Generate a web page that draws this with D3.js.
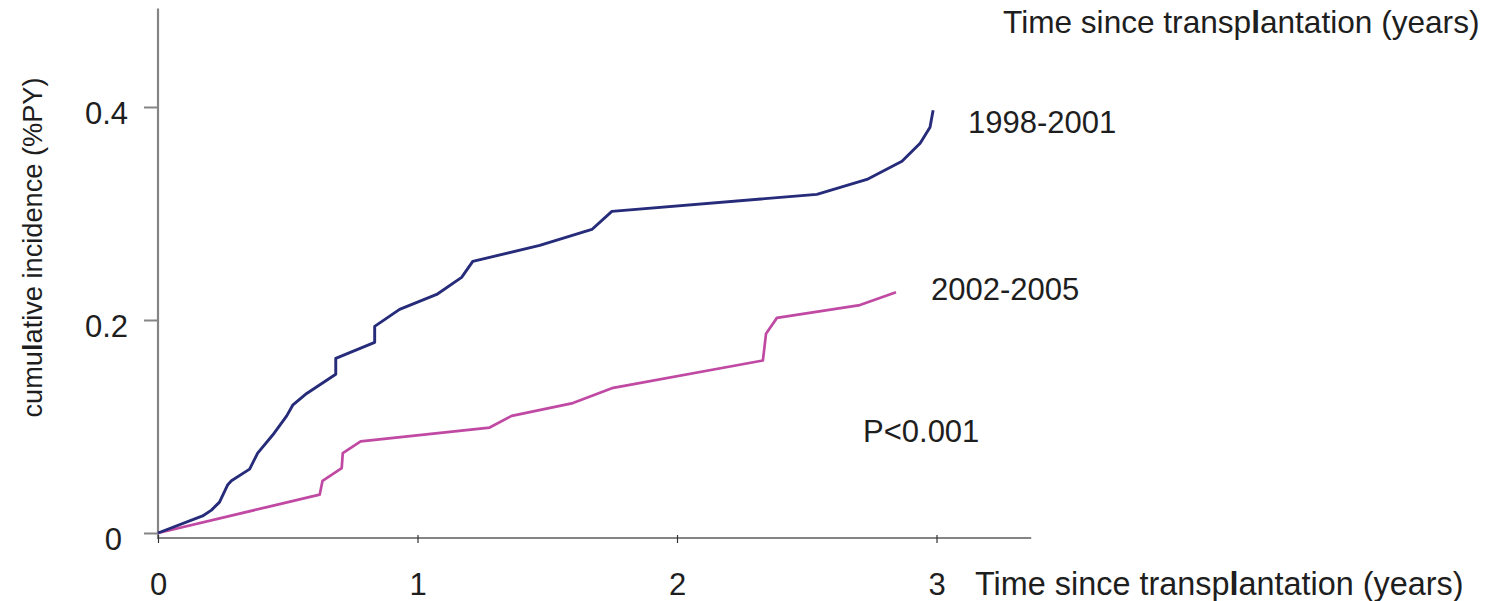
<!DOCTYPE html>
<html>
<head>
<meta charset="utf-8">
<script src="https://cdn.jsdelivr.net/npm/d3@7"></script>
<style>
  html, body { margin: 0; padding: 0; background: #fff; }
  svg { display: block; }
  text { font-family: "Liberation Sans", Arial, Helvetica, sans-serif; fill: #1e1e1e; }
</style>
</head>
<body>
<svg id="chart" width="1509" height="601"></svg>
<script>
// Cumulative incidence curves, by transplantation period
const years1998 = [0, 0.172, 0.206, 0.237, 0.268, 0.283, 0.353, 0.384, 0.442, 0.496, 0.519, 0.573, 0.685, 0.685, 0.835, 0.835, 0.931, 1.074, 1.170, 1.213, 1.471, 1.672, 1.749, 2.539, 2.732, 2.867, 2.937, 2.975, 2.987];
const incidence1998 = [0, 0.016, 0.0215, 0.029, 0.045, 0.049, 0.060, 0.075, 0.092, 0.110, 0.120, 0.131, 0.149, 0.164, 0.179, 0.194, 0.210, 0.224, 0.240, 0.255, 0.270, 0.285, 0.302, 0.318, 0.332, 0.349, 0.366, 0.381, 0.397];

const years2002 = [0, 0.623, 0.634, 0.708, 0.712, 0.781, 1.278, 1.363, 1.599, 1.749, 2.331, 2.343, 2.385, 2.705, 2.844];
const incidence2002 = [0, 0.036, 0.049, 0.061, 0.075, 0.086, 0.099, 0.110, 0.122, 0.136, 0.162, 0.187, 0.202, 0.214, 0.226];

const xTicks = [0, 1, 2, 3];
const yTicks = [0, 0.2, 0.4];
const seriesNames = ["1998-2001", "2002-2005"];
const xTitle = "Time since transplantation (years)";
const yTitle = "cumulative incidence (%PY)";
const pValue = "P<0.001";

const svg = d3.select("#chart");

const x = d3.scaleLinear().domain([0, 3]).range([158, 936.5]);
const y = d3.scaleLinear().domain([0, 0.4]).range([533, 107]);

const axisColor = "#858585";
const fontSize = 31;

// axis lines (the time axis sits a few pixels under the zero level)
const xAxisY = y(0) + 5;
svg.append("line")
  .attr("x1", x(0) - 1).attr("x2", x(3.365))
  .attr("y1", xAxisY).attr("y2", xAxisY)
  .attr("stroke", axisColor).attr("stroke-width", 2.2);
svg.append("line")
  .attr("x1", x(0)).attr("x2", x(0))
  .attr("y1", xAxisY + 1).attr("y2", y(0.4925))
  .attr("stroke", axisColor).attr("stroke-width", 2.2);

// x axis
const xAxis = svg.append("g")
  .attr("transform", `translate(0,${xAxisY})`)
  .call(d3.axisBottom(x).tickValues(xTicks).tickFormat(d3.format("d")).tickSize(5).tickPadding(30));
xAxis.select(".domain").remove();
xAxis.selectAll(".tick line").attr("stroke", "#333").attr("stroke-width", 1.2).attr("y1", -3);
xAxis.selectAll(".tick text").attr("font-size", fontSize).attr("fill", "#1e1e1e")
  .attr("font-family", "Liberation Sans, Arial, sans-serif");

// y axis
const yAxis = svg.append("g")
  .attr("transform", `translate(${x(0)},0)`)
  .call(d3.axisLeft(y).tickValues(yTicks).tickFormat(d => d === 0 ? "0" : d3.format(".1f")(d)).tickSize(14).tickPadding(16));
yAxis.select(".domain").remove();
yAxis.selectAll(".tick line").attr("stroke", axisColor).attr("stroke-width", 2);
yAxis.selectAll(".tick text").attr("font-size", fontSize).attr("fill", "#1e1e1e")
  .attr("dy", "16px")
  .attr("font-family", "Liberation Sans, Arial, sans-serif")
  .attr("x", d => d === 0 ? -36 : -30);

// curves
const line = d3.line().x(d => x(d[0])).y(d => y(d[1]));
const s1 = d3.zip(years1998, incidence1998);
const s2 = d3.zip(years2002, incidence2002);

svg.append("path").datum(s2)
  .attr("d", line).attr("fill", "none")
  .attr("stroke", "#c04aa3").attr("stroke-width", 2.7).attr("stroke-linejoin", "round");
svg.append("path").datum(s1)
  .attr("d", line).attr("fill", "none")
  .attr("stroke", "#262b7a").attr("stroke-width", 2.9).attr("stroke-linejoin", "round");

// titles and annotations
function boldL(sel, str) {
  // the "l" of "transplantation"/"cumulative" is set in a heavier weight
  const idx = str.indexOf("transplantation") >= 0 ? str.indexOf("transplantation") + 6
            : str.indexOf("cumulative") >= 0 ? 4 : -1;
  if (idx < 0) { sel.text(str); return; }
  sel.append("tspan").text(str.slice(0, idx));
  sel.append("tspan").attr("font-weight", "bold").text(str[idx]);
  sel.append("tspan").text(str.slice(idx + 1));
}

svg.append("text").attr("x", 1003).attr("y", 33).attr("font-size", 31.6).call(boldL, xTitle);
svg.append("text").attr("x", 975).attr("y", 595).attr("font-size", 32.4).call(boldL, xTitle);

svg.append("text")
  .attr("transform", `translate(42,${247.5}) rotate(-90)`)
  .attr("text-anchor", "middle").attr("font-size", 27.2)
  .call(boldL, yTitle);

svg.append("text").attr("x", 968).attr("y", 133).attr("font-size", fontSize).text(seriesNames[0]);
svg.append("text").attr("x", 931).attr("y", 300).attr("font-size", fontSize).text(seriesNames[1]);
svg.append("text").attr("x", 863).attr("y", 442).attr("font-size", fontSize).text(pValue);
</script>
</body>
</html>
